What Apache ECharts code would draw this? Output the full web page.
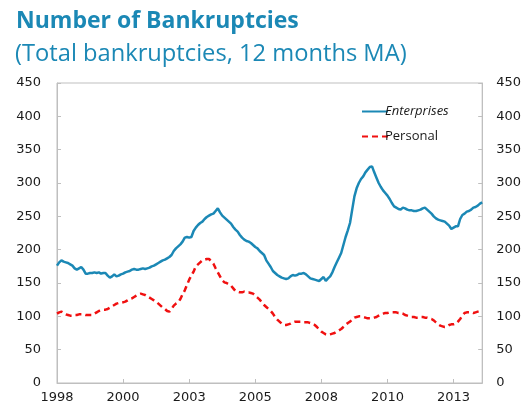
<!DOCTYPE html>
<html>
<head>
<meta charset="utf-8">
<script src="https://cdn.jsdelivr.net/npm/echarts@6/dist/echarts.min.js"></script>
<style>
html,body{margin:0;padding:0;background:#fff;}
#c{width:524px;height:410px;}
</style>
</head>
<body>
<div id="c"></div>
<script>
// Monthly data, Jan 1998 .. Feb 2014
var startYear = 1998;
var nMonths = 194;
var tickYears = ['1998','2000','2003','2005','2008','2010','2013'];
var yTicks = [0,50,100,150,200,250,300,350,400,450];

var enterprises = [
176,181,184,182,181,180,178,176,172,170,172,174,
170,164,164,165,165,166,165,166,164,165,165,161,
158,160,163,160,161,163,164,166,167,168,170,171,
170,170,171,172,171,172,173,175,176,178,180,182,
184,185,187,189,192,198,202,205,208,212,218,219,
218,219,228,233,237,240,242,246,249,251,253,254,
258,262,256,251,248,245,242,239,234,230,227,222,
218,215,213,212,210,207,204,202,198,195,192,184,
179,174,168,165,162,160,158,157,156,157,160,162,
161,162,164,164,165,163,160,157,156,155,154,153,
156,159,153,157,160,166,174,181,188,195,207,219,
229,240,260,280,292,300,306,310,316,320,324,325,
316,308,300,294,289,285,281,276,270,265,263,261,
260,263,262,260,259,259,258,258,259,260,262,263,
260,257,254,250,247,245,244,243,242,239,236,231,
233,235,235,246,252,254,257,258,260,263,264,266,
269,271
];

var personal = [
104,106,107,105,103,102,101,101,102,102,103,103,
103,102,102,102,102,104,106,108,109,110,110,111,
113,115,117,119,120,121,121,122,124,126,127,129,
131,133,134,133,132,130,128,126,124,122,119,116,
113,111,108,107,111,116,119,121,126,133,139,147,
155,161,167,175,178,181,184,185,186,186,183,179,
172,166,160,154,151,150,148,146,142,138,137,136,
136,137,136,136,135,134,131,128,125,121,117,114,
111,108,104,99,95,92,89,87,87,88,89,91,
92,92,92,92,91,91,91,90,89,87,84,80,
77,75,73,72,73,74,75,77,79,81,84,87,
90,92,95,98,99,100,100,99,98,97,97,97,
98,99,101,103,104,105,105,106,106,106,106,105,
105,104,102,101,100,99,99,98,98,99,99,98,
98,97,96,94,91,88,86,85,84,85,87,88,
88,89,92,96,101,105,106,106,106,105,106,107,
108,110
];

var months = [];
for (var i = 0; i < nMonths; i++) {
  var y = startYear + Math.floor(i / 12);
  var m = (i % 12) + 1;
  months.push(y + '-' + (m < 10 ? '0' + m : m));
}

var BLUE = '#1b88b5';
var RED = '#f01010';
var axisLineGray = '#bfbfbf';
var labelColor = '#1a1a1a';

var chart = echarts.init(document.getElementById('c'), null, {renderer: 'canvas'});

function yAxisDef(pos) {
  return {
    type: 'value', position: pos, min: 0, max: 450, interval: 50,
    axisLine: {show: true, lineStyle: {color: axisLineGray, width: 1}},
    axisTick: {show: true, inside: true, length: 4, lineStyle: {color: axisLineGray}},
    splitLine: {show: false},
    axisLabel: {color: labelColor, fontSize: 13, fontFamily: 'DejaVu Sans', margin: pos === 'left' ? 16 : 14}
  };
}

chart.setOption({
  animation: false,
  backgroundColor: '#fff',
  title: [
    {text: 'Number of Bankruptcies', left: 11, top: 5,
     textStyle: {color: BLUE, fontSize: 23, fontWeight: 'bold', fontFamily: 'Open Sans'}},
    {text: '(Total bankruptcies, 12 months MA)', left: 10, top: 37,
     textStyle: {color: BLUE, fontSize: 23.7, fontWeight: 'normal', fontFamily: 'Open Sans'}}
  ],
  legend: {
    orient: 'vertical', left: 356, top: 100, itemGap: 12,
    itemWidth: 26, itemHeight: 10,
    itemStyle: {opacity: 0},
    textStyle: {color: '#1a1a1a', fontSize: 13, fontFamily: 'Open Sans', padding: [0,0,0,-8]},
    data: [
      {name: 'Enterprises', textStyle: {fontStyle: 'italic'}},
      {name: 'Personal'}
    ]
  },
  grid: {left: 57, right: 38, top: 83, bottom: 27, show: true, borderColor: axisLineGray, borderWidth: 1},
  xAxis: {
    type: 'category', data: months, boundaryGap: false,
    axisLine: {show: true, lineStyle: {color: axisLineGray}},
    axisTick: {show: true, inside: true, length: 4, interval: 29, lineStyle: {color: axisLineGray}},
    axisLabel: {
      interval: 29, color: labelColor, fontSize: 13, fontFamily: 'DejaVu Sans', margin: 8,
      formatter: function (v, idx) { return tickYears[Math.round(idx / 30)] || ''; }
    },
    splitLine: {show: false}
  },
  yAxis: [yAxisDef('left'), yAxisDef('right')],
  series: [
    {name: 'Enterprises', type: 'line', data: enterprises, yAxisIndex: 0,
     showSymbol: false, symbol: 'none',
     lineStyle: {color: BLUE, width: 2.5}, itemStyle: {color: BLUE}},
    {name: 'Personal', type: 'line', data: personal, yAxisIndex: 0,
     showSymbol: false, symbol: 'none',
     lineStyle: {color: RED, width: 2.5, type: [6, 4]}, itemStyle: {color: RED}}
  ]
});
</script>
</body>
</html>
